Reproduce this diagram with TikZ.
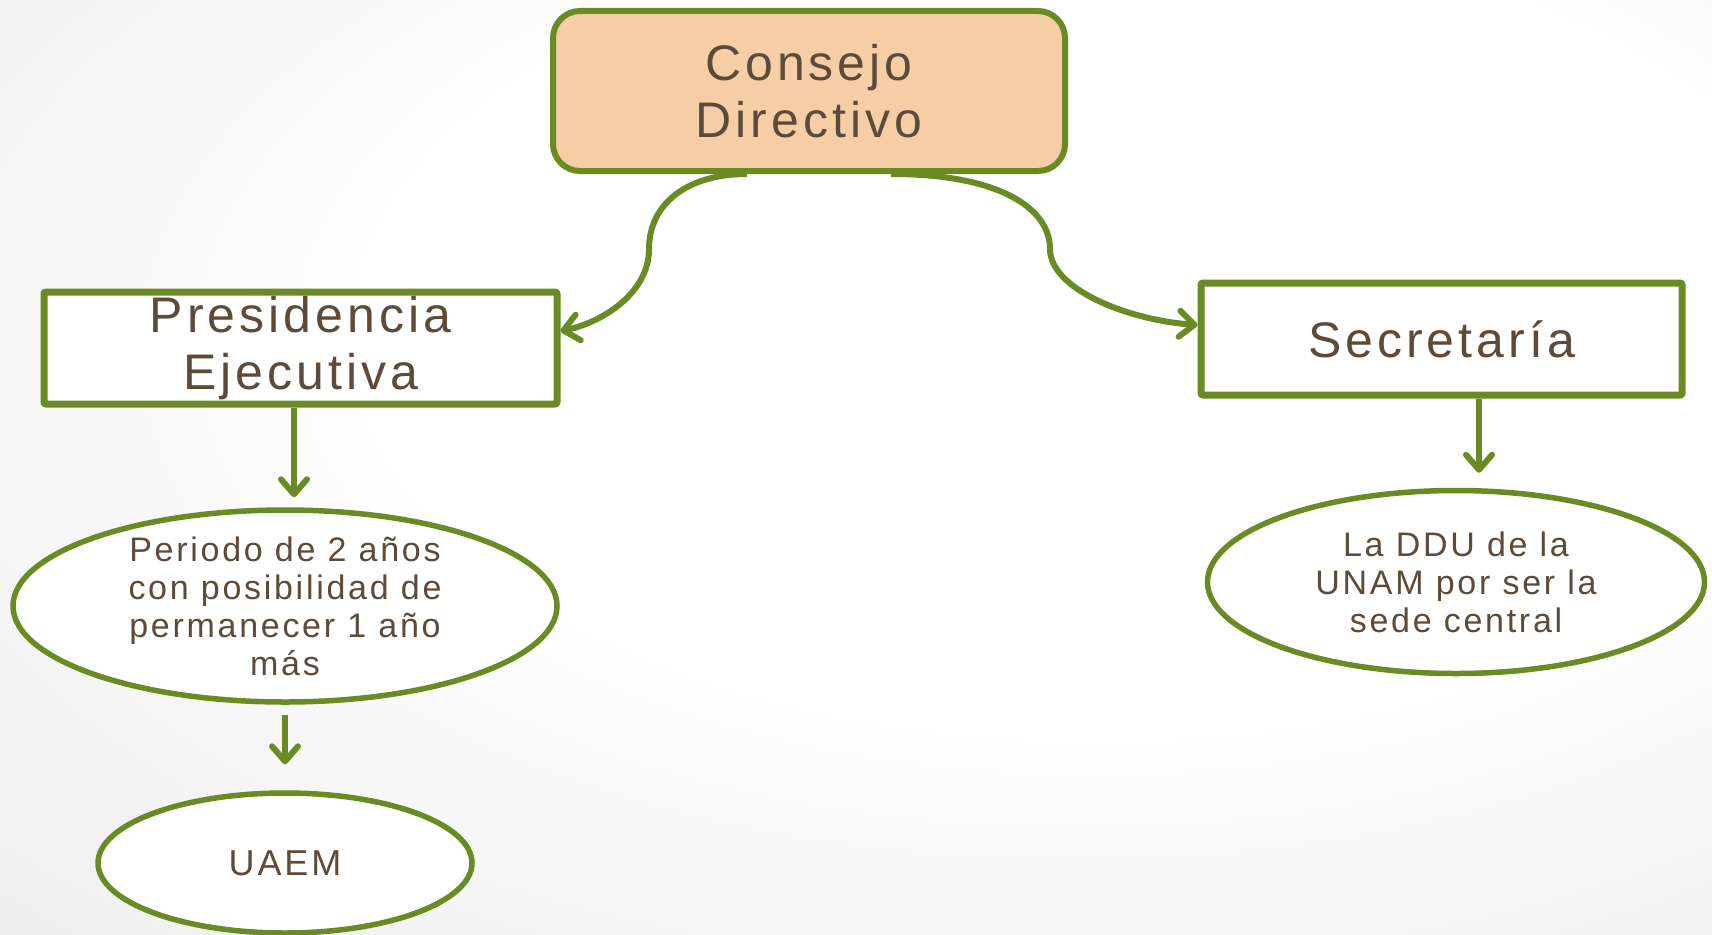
\documentclass[tikz,border=0pt]{standalone}
\usepackage{fontspec}
\setmainfont{Liberation Sans}[LetterSpace=8]
\usetikzlibrary{arrows.meta,shapes.geometric,calc}
\definecolor{txt}{HTML}{5E4A38}
\definecolor{grn}{HTML}{6A8B23}
\definecolor{peach}{HTML}{F5CEA6}
\pgfdeclareradialshading{bgshade}{\pgfpoint{10bp}{10bp}}{color(0bp)=(white); color(20bp)=(white); color(50bp)=(black!9); color(75bp)=(black!15)}
\begin{document}
\begin{tikzpicture}[x=1pt,y=-1pt,
  box/.style={draw=grn, line width=7pt, fill=white, rectangle, rounded corners=2pt, inner sep=0pt, text=txt, align=center, font=\fontsize{50}{57}\selectfont},
  oval/.style={draw=grn, line width=5.5pt, fill=white, ellipse, inner sep=-25pt, text=txt, align=center, font=\fontsize{34}{38}\selectfont},
  conn/.style={draw=grn, line width=6pt, -{Straight Barb[length=15pt,width=26pt,round]}}]
\shade[shading=bgshade] (0,0) rectangle (1712,934);
\useasboundingbox (0,0) rectangle (1712,934);

\node[box, fill=peach, rounded corners=27pt, line width=6pt, minimum width=512pt, minimum height=160pt] (cd) at (809,91) {Consejo\\Directivo};
\node[box, minimum width=513pt, minimum height=112pt] (pe) at (300.5,348) {Presidencia\\Ejecutiva};
\node[box, minimum width=481pt, minimum height=112pt] (sec) at (1441.5,339) {Secretaría};

\node[oval, minimum width=544pt, minimum height=192pt] (ell1) at (285,606) {Periodo de 2 años\\con posibilidad de\\permanecer 1 año\\más};
\node[oval, minimum width=497pt, minimum height=183pt] (ddu) at (1456,582) {La DDU de la\\UNAM por ser la\\sede central};
\node[oval, minimum width=374pt, minimum height=140pt, font=\fontsize{36}{40}\selectfont] (ua) at (285,863) {UAEM};

\coordinate (lmid) at (649,249);
\coordinate (rmid) at (1050,249);

\draw[conn] ($(cd.south west)!0.38!(cd.south east)$) .. controls +(-60,0) and +(0,-45) .. (lmid) .. controls +(0,45) and +(40,-8) .. ($(pe.east)+(0,-17)$);
\draw[conn] ($(cd.south west)!0.658!(cd.south east)$) .. controls +(110,0) and +(0,-40) .. (rmid) .. controls +(0,40) and +(-70,-5) .. ($(sec.west)+(0,-14)$);

\draw[conn, shorten >=10pt] (pe.south -| 294,0) -- (ell1.north -| 294,0);
\draw[conn, shorten <=10pt, shorten >=26pt] (ell1.south) -- (ua.north);
\draw[conn, shorten >=15pt] (sec.south -| 1479,0) -- (ddu.north -| 1479,0);
\end{tikzpicture}
\end{document}
